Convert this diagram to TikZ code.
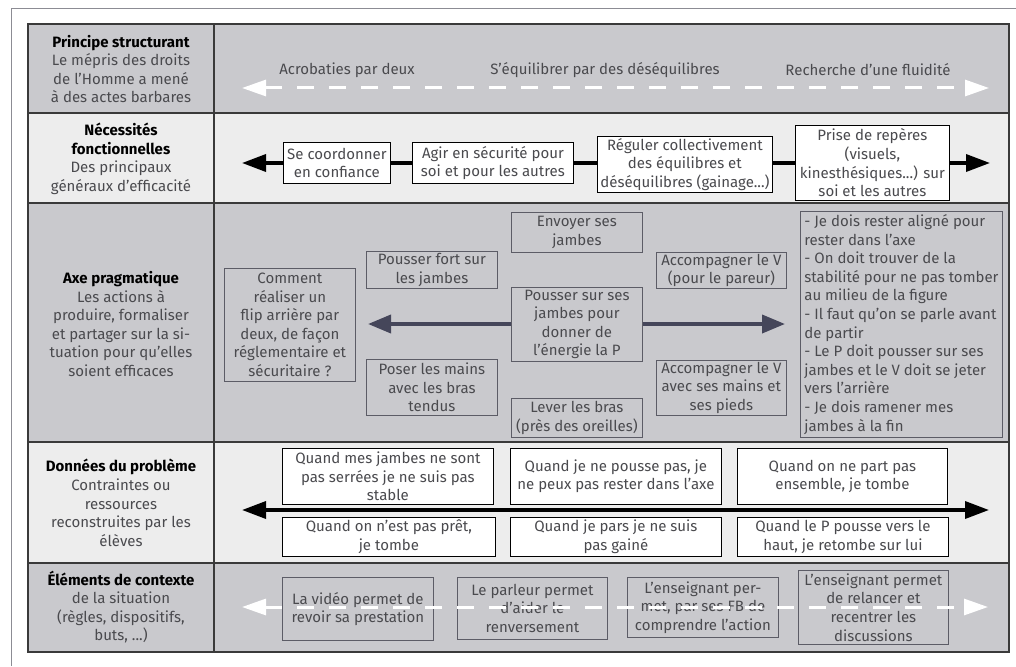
\documentclass[tikz,border=0pt]{standalone}
\usepackage{fontspec}
\setmainfont{Fira Sans}
\usetikzlibrary{arrows.meta}
\definecolor{dk}{HTML}{C9C9CD}
\definecolor{lt}{HTML}{EDEDED}
\definecolor{gridc}{HTML}{3A3A3A}
\definecolor{framec}{HTML}{8C8C94}
\definecolor{txt}{HTML}{4A4A4E}
\definecolor{gb}{HTML}{5C5C66}
\definecolor{arr}{HTML}{45465A}
\tikzset{
  base/.style={font=\fontsize{15}{18.6}\selectfont, text=txt, align=center, inner sep=1pt},
  wbox/.style={base, draw=black, line width=0.8pt, fill=white, anchor=north west},
  gbox/.style={base, draw=gb, line width=0.8pt, fill=dk, anchor=north west},
  lbl/.style={base},
  wdash/.style={white, line width=3pt, dash pattern=on 17pt off 15pt,
     {Triangle[length=24pt,width=16pt]}-{Triangle[length=24pt,width=16pt]}},
  barrow/.style={black, line width=3.5pt,
     {Triangle[length=24pt,width=17pt]}-{Triangle[length=24pt,width=17pt]}},
  darrow/.style={arr, line width=3.8pt, -{Triangle[length=23pt,width=18pt]}},
}
\begin{document}
\begin{tikzpicture}[x=1pt,y=-1pt]
\useasboundingbox (0,0) rectangle (1016,666);
\fill[white] (0,0) rectangle (1016,666);
% outer frame
\draw[framec, line width=1pt] (11,666) -- (11,9) -- (1016,9);
% row backgrounds
\fill[dk] (28,24) rectangle (1009,113);
\fill[lt] (28,113) rectangle (1009,203);
\fill[dk] (28,203) rectangle (1009,442);
\fill[lt] (28,442) rectangle (1009,563);
\fill[dk] (28,563) rectangle (1009,652);
% grid
\draw[gridc, line width=1.3pt] (28,24) rectangle (1009,652);
\foreach \yy in {113,203,442,563} \draw[gridc, line width=1.3pt] (28,\yy) -- (1009,\yy);
\draw[gridc, line width=2pt] (214,24) -- (214,652);

% left column
\node[lbl] (l1) at (121,69) {{\bfseries\color{black}Principe structurant}\\Le mépris des droits\\de l’Homme a mené\\à des actes barbares};
\node[lbl] (l2) at (121,159) {{\bfseries\color{black}Nécessités}\\{\bfseries\color{black}fonctionnelles}\\Des principaux\\généraux d’efficacité};
\node[lbl] (l3) at (121,324) {{\bfseries\color{black}Axe pragmatique}\\Les actions à\\produire, formaliser\\et partager sur la si-\\tuation pour qu’elles\\soient efficaces};
\node[lbl] (l4) at (121,503) {{\bfseries\color{black}Données du problème}\\Contraintes ou\\ressources\\reconstruites par les\\élèves};
\node[lbl] (l5) at (121,607) {{\bfseries\color{black}Éléments de contexte}\\de la situation\\(règles, dispositifs,\\buts, ...)};

% row 1
\coordinate (r1L) at (242,88);
\coordinate (r1R) at (989,88);
\draw[wdash] (r1L) -- (r1R);
\node[lbl] (a1) at (347,70) {Acrobaties par deux};
\node[lbl] (a2) at (605,70) {S’équilibrer par des déséquilibres};
\node[lbl] (a3) at (868,70) {Recherche d’une fluidité};

% row 2
\coordinate (r2L) at (242,163);
\coordinate (r2R) at (990,163);
\draw[barrow] (r2L) -- (r2R);
\node[wbox, minimum width=107, minimum height=41] (n21) at (283,142) {Se coordonner\\en confiance};
\node[wbox, minimum width=161, minimum height=41] (n22) at (412,142) {Agir en sécurité pour\\soi et pour les autres};
\node[wbox, minimum width=175, minimum height=56] (n23) at (597,136) {Réguler collectivement\\des équilibres et\\déséquilibres (gainage...)};
\node[wbox, minimum width=154, minimum height=75] (n24) at (795,125) {Prise de repères\\(visuels,\\kinesthésiques...) sur\\soi et les autres};

% row 3
\node[gbox, minimum width=131, minimum height=113] (q) at (224,268) {Comment\\réaliser un\\flip arrière par\\deux, de façon\\réglementaire et\\sécuritaire ?};
\node[gbox, minimum width=131, minimum height=40] (b1) at (511,212) {Envoyer ses\\jambes};
\node[gbox, minimum width=131, minimum height=37] (b2) at (366,251) {Pousser fort sur\\les jambes};
\node[gbox, minimum width=131, minimum height=74] (b3) at (511,287) {Pousser sur ses\\jambes pour\\donner de\\l’énergie la P};
\node[gbox, minimum width=131, minimum height=56] (b4) at (366,359) {Poser les mains\\avec les bras\\tendus};
\node[gbox, minimum width=131, minimum height=39] (b5) at (511,398) {Lever les bras\\(près des oreilles)};
\node[gbox, minimum width=130, minimum height=36] (b6) at (656,252) {Accompagner le V\\(pour le pareur)};
\node[gbox, minimum width=130, minimum height=55] (b7) at (656,360) {Accompagner le V\\avec ses mains et\\ses pieds};
\node[gbox, align=left, minimum width=202, minimum height=226] (lst) at (800,211) {- Je dois rester aligné pour\\rester dans l’axe\\- On doit trouver de la\\stabilité pour ne pas tomber\\au milieu de la figure\\- Il faut qu’on se parle avant\\de partir\\- Le P doit pousser sur ses\\jambes et le V doit se jeter\\vers l’arrière\\- Je dois ramener mes\\jambes à la fin};
\coordinate (t3L) at (368,324);
\coordinate (t3R) at (785,324);
\draw[darrow] (b3.west |- t3L) -- (t3L);
\draw[darrow] (b3.east |- t3R) -- (t3R);

% row 4
\coordinate (r4L) at (242,510);
\coordinate (r4R) at (989,510);
\draw[barrow] (r4L) -- (r4R);
\node[wbox, minimum width=211, minimum height=56] (d1) at (282,448) {Quand mes jambes ne sont\\pas serrées je ne suis pas\\stable};
\node[wbox, minimum width=211, minimum height=56] (d2) at (510,448) {Quand je ne pousse pas, je\\ne peux pas rester dans l’axe};
\node[wbox, minimum width=210, minimum height=56] (d3) at (737,448) {Quand on ne part pas\\ensemble, je tombe};
\node[wbox, minimum width=213, minimum height=39] (d4) at (282,517) {Quand on n’est pas prêt,\\je tombe};
\node[wbox, minimum width=211, minimum height=39] (d5) at (510,517) {Quand je pars je ne suis\\pas gainé};
\node[wbox, minimum width=211, minimum height=39] (d6) at (737,517) {Quand le P pousse vers le\\haut, je retombe sur lui};

% row 5
\node[gbox, minimum width=151, minimum height=63] (e1) at (282,577) {La vidéo permet de\\revoir sa prestation};
\node[gbox, minimum width=150, minimum height=62] (e2) at (457,577) {Le parleur permet\\d’aider le\\renversement};
\node[gbox, minimum width=151, minimum height=60] (e3) at (627,577) {L’enseignant per-\\met, par ses FB de\\comprendre l’action};
\node[gbox, minimum width=150, minimum height=74] (e4) at (798,570) {L’enseignant permet\\de relancer et\\recentrer les\\discussions};
\coordinate (r5L) at (242,607);
\coordinate (r5R) at (988,607);
\draw[wdash] (r5L) -- (r5R);
\end{tikzpicture}
\end{document}
